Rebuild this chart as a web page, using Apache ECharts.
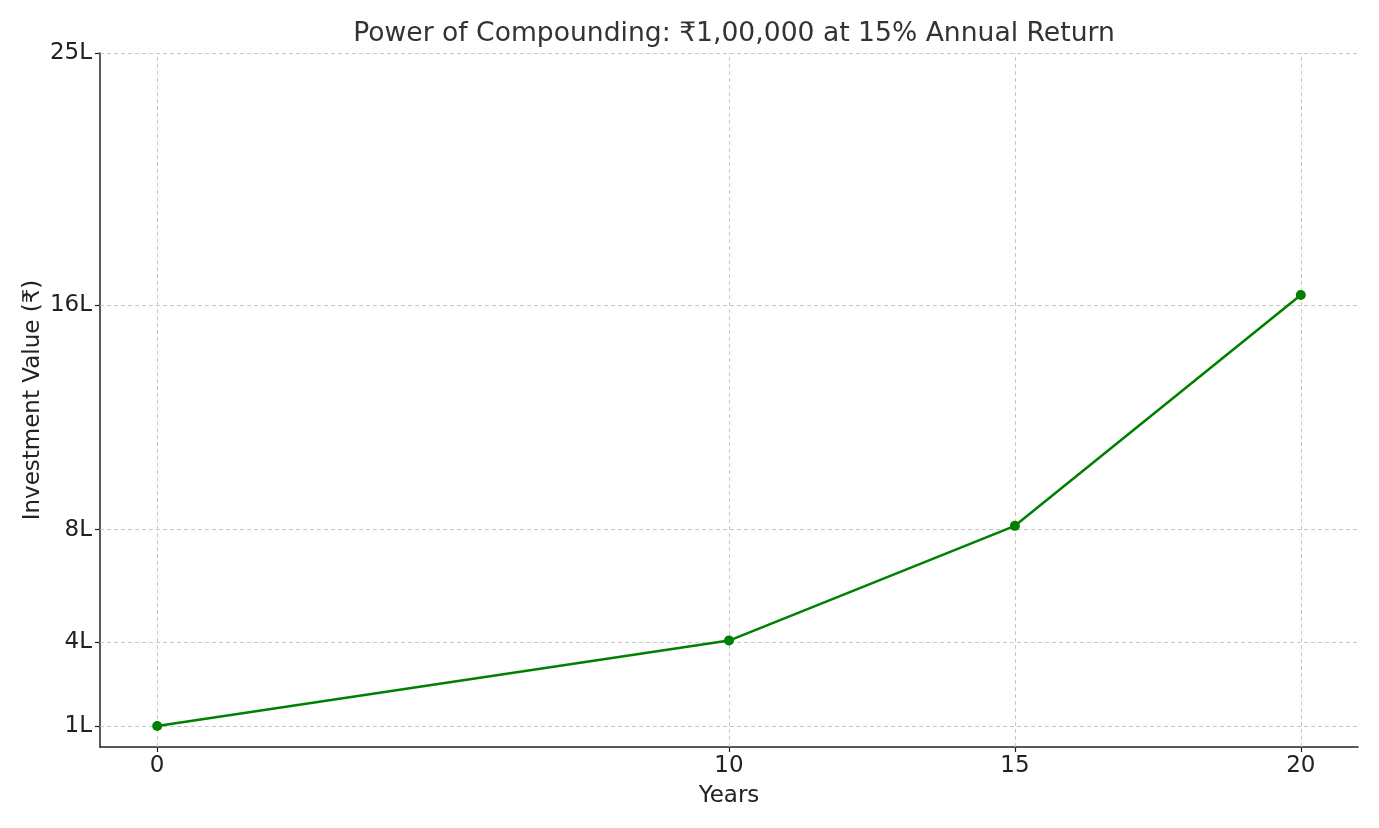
<!DOCTYPE html>
<html>
<head>
<meta charset="utf-8">
<script src="https://cdn.jsdelivr.net/npm/echarts@6/dist/echarts.min.js"></script>
<style>html,body{margin:0;padding:0;background:#fff}#c{width:1379px;height:828px}</style>
</head>
<body>
<div id="c"></div>
<script>
const years = [0, 10, 15, 20];
const values = [100000, 404556, 813706, 1636654];
const xTicks = [0, 10, 15, 20];
const yTicks = [100000, 400000, 800000, 1600000, 2500000];
const yTickLabels = ['1L', '4L', '8L', '16L', '25L'];

const chart = echarts.init(document.getElementById('c'));
const font = 'DejaVu Sans';
const gridLine = {color: '#c8c8c8', type: [4, 3], width: 1};
chart.setOption({
  animation: false,
  title: {
    text: 'Power of Compounding: ₹1,00,000 at 15% Annual Return',
    left: 729, textAlign: 'center', top: 16,
    textStyle: {fontFamily: font, fontSize: 26.6, fontWeight: 'normal', color: '#333333'}
  },
  grid: {left: 100, right: 21, top: 53, bottom: 81},
  xAxis: {
    type: 'value', min: -1, max: 21,
    name: 'Years', nameLocation: 'middle', nameGap: 38, nameMoveOverlap: false,
    nameTextStyle: {fontFamily: font, fontSize: 23, color: '#222'},
    axisLine: {show: true, onZero: false, lineStyle: {color: '#222', width: 1.5}},
    axisTick: {show: true, length: 5, customValues: xTicks, lineStyle: {color: '#222', width: 1.2}},
    axisLabel: {customValues: xTicks, fontFamily: font, fontSize: 23, color: '#222', margin: 8},
    splitLine: {show: false}
  },
  yAxis: {
    type: 'value', min: 25000, max: 2500000,
    name: 'Investment Value (₹)', nameLocation: 'middle', nameGap: 55, nameMoveOverlap: false,
    nameTextStyle: {fontFamily: font, fontSize: 23, color: '#222'},
    axisLine: {show: true, onZero: false, lineStyle: {color: '#222', width: 1.5}},
    axisTick: {show: true, length: 5, customValues: yTicks, lineStyle: {color: '#222', width: 1.2}},
    axisLabel: {
      customValues: yTicks, fontFamily: font, fontSize: 23, color: '#222', margin: 8,
      formatter: v => yTickLabels[yTicks.indexOf(v)] ?? ''
    },
    splitLine: {show: false}
  },
  series: [{
    type: 'line',
    data: years.map((y, i) => [y, values[i]]),
    symbol: 'circle', symbolSize: 10,
    lineStyle: {color: '#008000', width: 2.5},
    itemStyle: {color: '#008000'},
    z: 5,
    markLine: {
      silent: true, symbol: 'none', label: {show: false},
      lineStyle: gridLine,
      emphasis: {disabled: true},
      data: xTicks.map(v => ({xAxis: v})).concat(yTicks.map(v => ({yAxis: v})))
    }
  }]
});
</script>
</body>
</html>
